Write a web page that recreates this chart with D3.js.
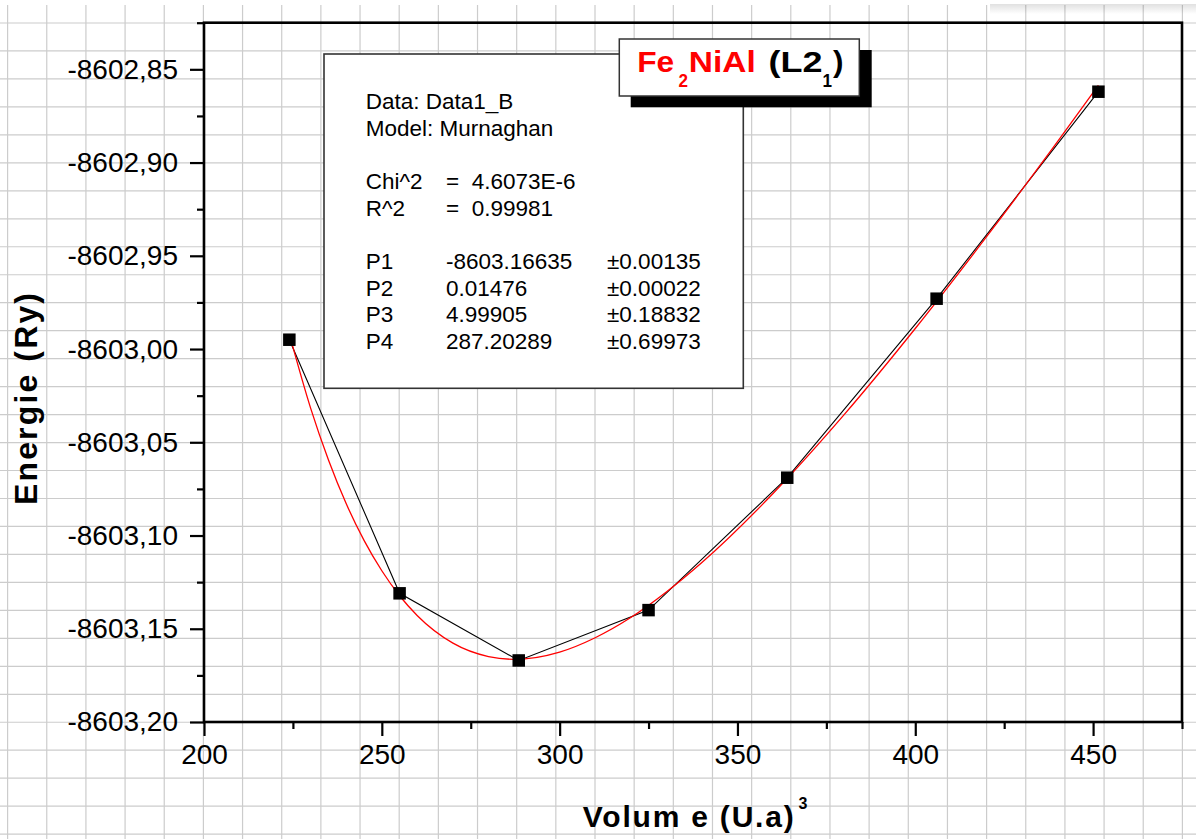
<!DOCTYPE html>
<html><head><meta charset="utf-8">
<script src="https://cdn.jsdelivr.net/npm/d3@7"></script>
<style>html,body{margin:0;padding:0;background:#fff;overflow:hidden}</style>
</head><body>
<svg id="chart" width="1196" height="839"></svg>
<script>
// ---- data ----
const volumes  = [224, 255, 288.5, 325, 364, 406, 451.5];
const energies = [-8602.995, -8603.131, -8603.167, -8603.140, -8603.069, -8602.973, -8602.862];

// Murnaghan fit curve (red)
const fitVolumes  = [224, 230, 235, 240, 245, 250, 255, 260, 270, 280, 287.2, 300, 310, 320, 330, 340, 360, 380, 400, 420, 440, 451.5];
const fitEnergies = [-8602.992, -8603.0318, -8603.0595, -8603.0830, -8603.1026, -8603.1189, -8603.1323, -8603.1430,
                     -8603.1577, -8603.1649, -8603.1664, -8603.1625, -8603.1548, -8603.1440, -8603.1303, -8603.1145,
                     -8603.0775, -8603.0352, -8602.9890, -8602.9399, -8602.8888, -8602.8586];

const xMajorTicks = [200, 250, 300, 350, 400, 450];
const xTickLabels = ["200", "250", "300", "350", "400", "450"];
const xMinorTicks = [225, 275, 325, 375, 425, 475];
const yMajorTicks = [-8603.20, -8603.15, -8603.10, -8603.05, -8603.00, -8602.95, -8602.90, -8602.85];
const yTickLabels = ["-8603,20", "-8603,15", "-8603,10", "-8603,05", "-8603,00", "-8602,95", "-8602,90", "-8602,85"];
const yMinorTicks = [-8603.175, -8603.125, -8603.075, -8603.025, -8602.975, -8602.925, -8602.875, -8602.825];

const statCol1 = ["Data: Data1_B", "Model: Murnaghan", "", "Chi^2", "R^2", "", "P1", "P2", "P3", "P4"];
const statCol2 = ["", "", "", "=  4.6073E-6", "=  0.99981", "", "-8603.16635", "0.01476", "4.99905", "287.20289"];
const statCol3 = ["", "", "", "", "", "", "\u00B10.00135", "\u00B10.00022", "\u00B10.18832", "\u00B10.69973"];

const xTitle = "Volum e (U.a)";
const xTitleSup = "3";
const yTitle = "Energie (Ry)";

// ---- drawing ----
const svg = d3.select("#chart");
const W = 1196, H = 839;
const FONT = "'Liberation Sans', Arial, sans-serif";

// background spreadsheet-like grid
const gridG = svg.append("g").attr("stroke", "#cccccc").attr("stroke-width", 1.2);
d3.range(0, 31).forEach(k => {
  const gx = 7.6 + 39.16 * k;
  gridG.append("line").attr("x1", gx).attr("x2", gx).attr("y1", 5).attr("y2", H);
});
d3.range(0, 30).forEach(k => {
  const gy = 23 + 27.97 * k;
  gridG.append("line").attr("x1", 0).attr("x2", W).attr("y1", gy).attr("y2", gy);
});
// faint window shadow top-right
const defs = svg.append("defs");
const grad = defs.append("linearGradient").attr("id", "shade").attr("x1", 0).attr("y1", 0).attr("x2", 0).attr("y2", 1);
grad.append("stop").attr("offset", "0%").attr("stop-color", "#000").attr("stop-opacity", 0.12);
grad.append("stop").attr("offset", "100%").attr("stop-color", "#000").attr("stop-opacity", 0);
svg.append("rect").attr("x", 990).attr("y", 4).attr("width", 206).attr("height", 10).attr("fill", "url(#shade)");

const x = d3.scaleLinear().domain([200, 475]).range([204, 1182]);
const y = d3.scaleLinear().domain([-8603.20, -8602.825]).range([722, 22.7]);

// axes
const xAxisG = svg.append("g").attr("transform", `translate(0,${y(-8603.20)})`);
xAxisG.call(d3.axisBottom(x).tickValues(xMajorTicks).tickSize(14).tickPadding(8)
  .tickFormat((d, i) => xTickLabels[i]));
const xMinorG = svg.append("g").attr("transform", `translate(0,${y(-8603.20)})`);
xMinorG.call(d3.axisBottom(x).tickValues(xMinorTicks).tickSize(7).tickFormat(""));

const yAxisG = svg.append("g").attr("transform", `translate(${x(200)},0)`);
yAxisG.call(d3.axisLeft(y).tickValues(yMajorTicks).tickSize(14).tickPadding(12)
  .tickFormat((d, i) => yTickLabels[i]));
const yMinorG = svg.append("g").attr("transform", `translate(${x(200)},0)`);
yMinorG.call(d3.axisLeft(y).tickValues(yMinorTicks).tickSize(7).tickFormat(""));

[xAxisG, xMinorG, yAxisG, yMinorG].forEach(g => {
  g.select(".domain").remove();
  g.selectAll(".tick line").attr("stroke", "#000").attr("stroke-width", 2.2);
  g.selectAll(".tick text").attr("fill", "#000").style("font-family", FONT).style("font-size", "28px");
});

// frame
svg.append("rect")
  .attr("x", x(200)).attr("y", y(-8602.825))
  .attr("width", x(475) - x(200)).attr("height", y(-8603.20) - y(-8602.825))
  .attr("fill", "none").attr("stroke", "#000").attr("stroke-width", 2.6);

// stats box
const box = svg.append("g");
box.append("rect").attr("x", 324).attr("y", 54).attr("width", 419.3).attr("height", 334.3)
  .attr("fill", "#fff").attr("stroke", "#333").attr("stroke-width", 1.6);
const statTxt = box.append("g").style("font-family", FONT).style("font-size", "22.5px").attr("fill", "#000");
statCol1.forEach((t, i) => {
  const by = 109.3 + 26.6 * i;
  if (t) statTxt.append("text").attr("x", 365.7).attr("y", by).text(t);
  if (statCol2[i]) statTxt.append("text").attr("x", 446).attr("y", by).attr("xml:space", "preserve").text(statCol2[i]);
  if (statCol3[i]) statTxt.append("text").attr("x", 607).attr("y", by).text(statCol3[i]);
});

// data line (black)
const line = d3.line().x((d, i) => x(volumes[i])).y((d, i) => y(energies[i]));
svg.append("path").datum(volumes).attr("d", line)
  .attr("fill", "none").attr("stroke", "#000").attr("stroke-width", 1.1);

// fit curve (red)
const fitLine = d3.line().curve(d3.curveMonotoneX)
  .x((d, i) => x(fitVolumes[i])).y((d, i) => y(fitEnergies[i]));
svg.append("path").datum(fitVolumes).attr("d", fitLine)
  .attr("fill", "none").attr("stroke", "#ff0000").attr("stroke-width", 1.3);

// square markers
const S = 12.5;
svg.append("g").selectAll("rect").data(volumes).join("rect")
  .attr("x", (d) => x(d) - S / 2)
  .attr("y", (d, i) => y(energies[i]) - S / 2)
  .attr("width", S).attr("height", S).attr("fill", "#000");

// title box with shadow
svg.append("rect").attr("x", 630.7).attr("y", 50).attr("width", 241).attr("height", 57.3).attr("fill", "#000");
svg.append("rect").attr("x", 619.3).attr("y", 39).attr("width", 240).attr("height", 57)
  .attr("fill", "#fff").attr("stroke", "#333").attr("stroke-width", 1.5);
const tg = svg.append("g").style("font-family", FONT).style("font-weight", "bold");
const titleSegs = [
  {t: "Fe",   x: 637.2, y: 71.5, len: 37,  size: 29, c: "#ff0000"},
  {t: "2",    x: 678.5, y: 87, len: 9.5, size: 19, c: "#ff0000"},
  {t: "NiAl", x: 688.8, y: 71.5, len: 67,  size: 29, c: "#ff0000"},
  {t: "(L2",  x: 768.5, y: 71.5, len: 54,  size: 29, c: "#000"},
  {t: "1",    x: 822.5, y: 87, len: 9.5, size: 19, c: "#000"},
  {t: ")",    x: 833,   y: 71.5, len: 10.5, size: 29, c: "#000"}
];
titleSegs.forEach(s => {
  tg.append("text").attr("x", s.x).attr("y", s.y).attr("fill", s.c)
    .style("font-size", s.size + "px")
    .attr("textLength", s.len).attr("lengthAdjust", "spacingAndGlyphs").text(s.t);
});

// axis titles
svg.append("text")
  .attr("transform", "translate(37,399) rotate(-90)")
  .attr("text-anchor", "middle")
  .style("font-family", FONT).style("font-weight", "bold").style("font-size", "32px")
  .attr("fill", "#000").attr("textLength", 212).attr("lengthAdjust", "spacing")
  .text(yTitle);

const xt = svg.append("text").attr("x", 582.7).attr("y", 826.7)
  .style("font-family", FONT).style("font-weight", "bold").attr("fill", "#000");
xt.append("tspan").style("font-size", "30px").attr("textLength", 211).attr("lengthAdjust", "spacing").text(xTitle);
xt.append("tspan").attr("x", 798.5).attr("y", 809).style("font-size", "16px").text(xTitleSup);
</script>
</body></html>
